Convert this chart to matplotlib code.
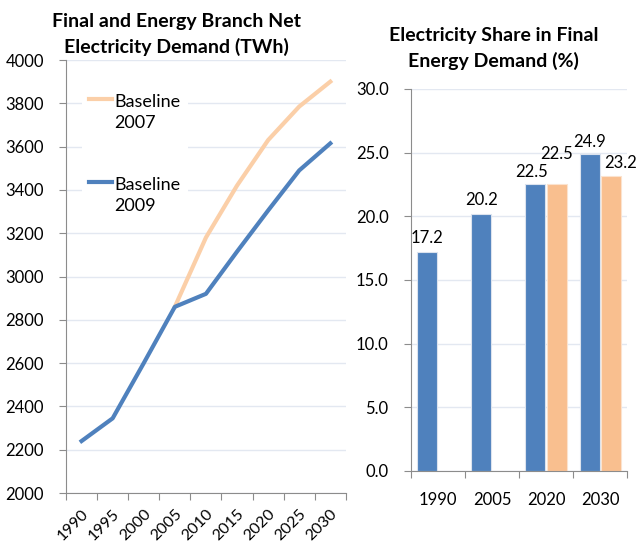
import numpy as np
import matplotlib.pyplot as plt
from matplotlib.legend_handler import HandlerLine2D

# left panel: net electricity demand (TWh)
years = ["1990", "1995", "2000", "2005", "2010", "2015", "2020", "2025", "2030"]
baseline_2007 = [np.nan, np.nan, np.nan, 2860, 3180, 3420, 3630, 3785, 3900]
baseline_2009 = [2240, 2345, 2600, 2860, 2920, 3115, 3305, 3490, 3615]

# right panel: electricity share (%)
share_years = ["1990", "2005", "2020", "2030"]
share_2009 = [17.2, 20.2, 22.5, 24.9]
share_2007 = [np.nan, np.nan, 22.5, 23.2]

BLUE = "#4F81BD"
ORANGE_LINE = "#FBCFA8"
ORANGE_BAR = "#F9BF8F"
GRID = "#E3E8F1"
SPINE = "#8C8C8C"

plt.rcParams["font.family"] = ["Lato", "DejaVu Sans"]


class TopLineHandler(HandlerLine2D):
    # put the legend line next to the first line of a two-line label
    shift = 9.5

    def create_artists(self, legend, orig_handle, xdescent, ydescent, width, height,
                       fontsize, trans):
        arts = super().create_artists(legend, orig_handle, xdescent, ydescent, width,
                                      height, fontsize, trans)
        for a in arts:
            a.set_ydata(np.asarray(a.get_ydata()) + self.shift)
        return arts


def style_axes(ax):
    for s in ["top", "right"]:
        ax.spines[s].set_visible(False)
    for s in ["left", "bottom"]:
        ax.spines[s].set_color(SPINE)
    ax.tick_params(axis="both", colors=SPINE, labelcolor="black", labelsize=12, length=5)
    ax.tick_params(axis="y", pad=11)
    ax.set_axisbelow(True)
    ax.grid(axis="y", color=GRID, linewidth=1)


def main():
    fig = plt.figure(figsize=(6.36, 5.45), dpi=100)

    # ---- left: line chart
    ax1 = fig.add_axes([0.1038, 0.0954, 0.440, 0.7945])
    x = np.arange(len(years))
    l1, = ax1.plot(x, baseline_2007, color=ORANGE_LINE, linewidth=3, label="Baseline\n2007")
    l2, = ax1.plot(x, baseline_2009, color=BLUE, linewidth=3, label="Baseline\n2009")
    ax1.set_xlim(-0.5, len(years) - 0.5)
    ax1.set_ylim(2000, 4000)
    ax1.set_yticks(np.arange(2000, 4001, 200))
    ax1.set_xticks(np.arange(len(years) + 1) - 0.5)
    ax1.set_xticklabels([])
    ax1.set_xticks(x, minor=True)
    ax1.set_xticklabels(years, minor=True, rotation=45, ha="right", rotation_mode="anchor")
    style_axes(ax1)
    ax1.tick_params(axis="x", which="minor", length=0, labelsize=11.5, pad=10)
    leg = ax1.legend(handler_map={l1: TopLineHandler(), l2: TopLineHandler()},
                     loc="upper left", bbox_to_anchor=(0.025, 0.96), frameon=True,
                     fontsize=13, labelspacing=2.5, handlelength=1.25, handletextpad=0.15,
                     borderpad=0.4)
    for t in leg.get_texts():
        t.set_linespacing(1.45)
    leg.get_frame().set_edgecolor("none")
    leg.get_frame().set_facecolor("white")
    leg.get_frame().set_alpha(1)
    ax1.set_title("Final and Energy Branch Net\nElectricity Demand (TWh)", x=0.395,
                  fontsize=14, fontweight="bold", pad=5, linespacing=1.5)

    # ---- right: bar chart
    ax2 = fig.add_axes([0.646, 0.1358, 0.340, 0.701])
    xb = np.arange(len(share_years))
    w = 0.37
    b1 = ax2.bar(xb - 0.195, share_2009, width=w, color=BLUE, edgecolor="#DCE3EE", linewidth=0.8)
    b2 = ax2.bar(xb + 0.195, share_2007, width=w, color=ORANGE_BAR, edgecolor="#FBE3CF", linewidth=0.8)
    ax2.set_xlim(-0.5, len(share_years) - 0.5)
    ax2.set_ylim(0, 30)
    ax2.set_yticks(np.arange(0, 31, 5))
    ax2.set_yticklabels([f"{v:.1f}" for v in np.arange(0, 31, 5)])
    ax2.set_xticks(np.arange(len(share_years) + 1) - 0.5)
    ax2.set_xticklabels([])
    ax2.set_xticks(xb, minor=True)
    ax2.set_xticklabels(share_years, minor=True)
    style_axes(ax2)
    ax2.tick_params(axis="x", which="minor", length=0, labelsize=12, pad=15)

    offs_blue = [(0, 6), (0, 6), (-4, 4), (0, 4)]
    offs_orange = [(0, 6), (0, 6), (0, 22), (10, 5)]
    for rect, v, off in zip(b1, share_2009, offs_blue):
        if np.isnan(v):
            continue
        ax2.annotate(f"{v:.1f}", (rect.get_x() + rect.get_width() / 2, v), xytext=off,
                     textcoords="offset pixels", ha="center", va="bottom", fontsize=12)
    for rect, v, off in zip(b2, share_2007, offs_orange):
        if np.isnan(v):
            continue
        ax2.annotate(f"{v:.1f}", (rect.get_x() + rect.get_width() / 2, v), xytext=off,
                     textcoords="offset pixels", ha="center", va="bottom", fontsize=12)
    ax2.set_title("Electricity Share in Final\nEnergy Demand (%)", x=0.384,
                  fontsize=14, fontweight="bold", pad=16, linespacing=1.5)

    fig.savefig("out.png", dpi=100)


if __name__ == "__main__":
    main()
